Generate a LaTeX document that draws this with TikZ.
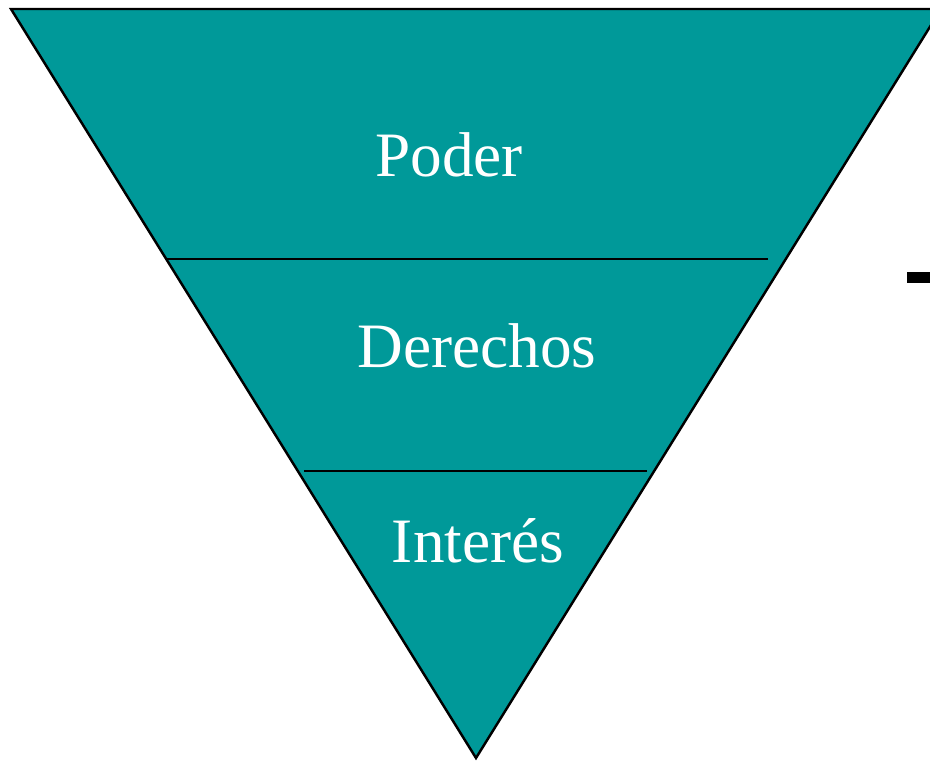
\documentclass[tikz,border=0pt]{standalone}
\usepackage{fontspec}
\setmainfont{Liberation Serif}
\usetikzlibrary{positioning}
\definecolor{teal}{RGB}{0,153,153}
\begin{document}
\begin{tikzpicture}
	[x=0.02cm, y=-0.02cm,
	level/.style = {text=white, font=\fontsize{36}{40}\selectfont, inner sep=0pt, anchor=base},
	border/.style = {draw=black, line width=1.4pt, line join=miter},
	sep/.style = {draw=black, line width=1pt}
	]
	\useasboundingbox (0,0) rectangle (930,762);
	\clip (0,0) rectangle (930,762);

	\coordinate (a) at (11,9);
	\coordinate (b) at (941,9);
	\coordinate (c) at (476,758);
	\coordinate (d) at (166,259);
	\coordinate (e) at (768,259);
	\coordinate (f) at (304,471);
	\coordinate (g) at (647,471);

	\draw[border, fill=teal] (a) -- (b) -- (c) -- cycle;
	\draw[sep] (d) -- (e);
	\draw[sep] (f) -- (g);

	\node[level] (poder) at (449,176) {Poder};
	\node[level] (derechos) at (477,367) {Derechos};
	\node[level] (interes) at (478,562) {Interés};

	\fill (907,272) rectangle (930,283);
\end{tikzpicture}
\end{document}
